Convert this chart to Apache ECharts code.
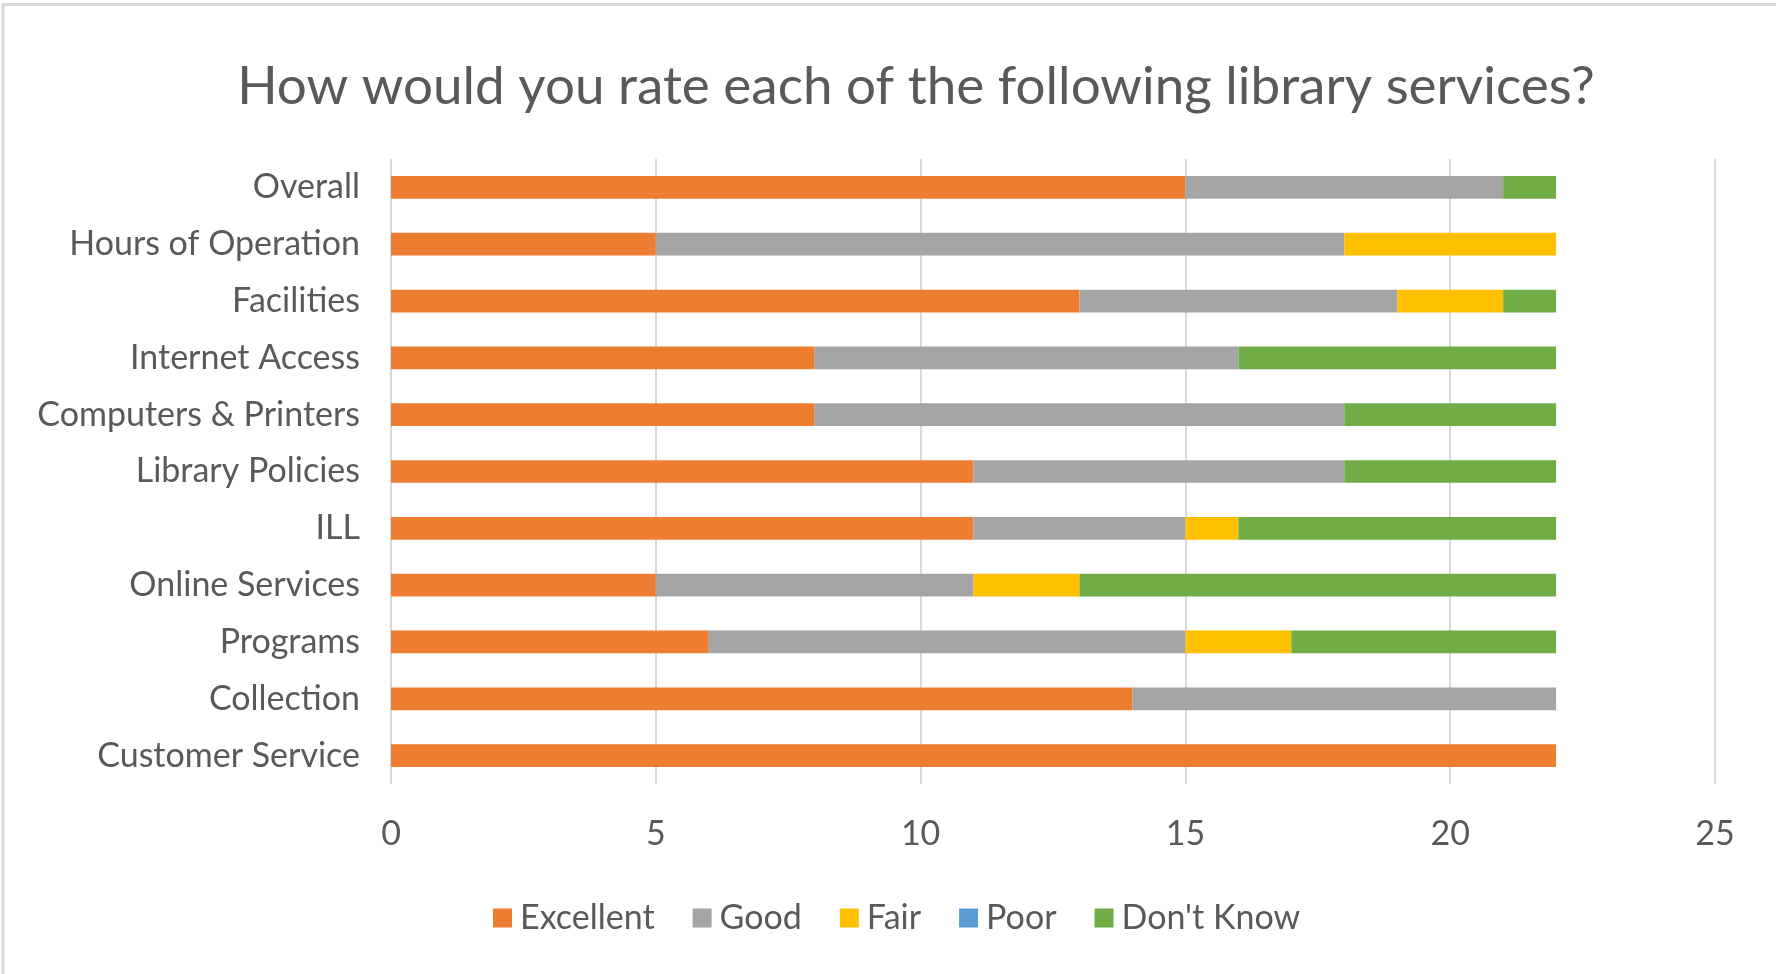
<!DOCTYPE html>
<html>
<head>
<meta charset="utf-8">
<script src="https://cdn.jsdelivr.net/npm/echarts@6/dist/echarts.min.js"></script>
<style>
html,body{margin:0;padding:0;background:#fff;}
#chart{width:1776px;height:974px;}
</style>
</head>
<body>
<div id="chart"></div>
<script>
const categories = ['Customer Service','Collection','Programs','Online Services','ILL','Library Policies','Computers & Printers','Internet Access','Facilities','Hours of Operation','Overall'];
const excellent = [22, 14, 6, 5, 11, 11, 8, 8, 13, 5, 15];
const good      = [0, 8, 9, 6, 4, 7, 10, 8, 6, 13, 6];
const fair      = [0, 0, 2, 2, 1, 0, 0, 0, 2, 4, 0];
const poor      = [0, 0, 0, 0, 0, 0, 0, 0, 0, 0, 0];
const dontKnow  = [0, 0, 5, 9, 6, 4, 4, 6, 1, 0, 1];
const seriesNames = ['Excellent','Good','Fair','Poor',"Don't Know"];
const seriesColors = ['#ED7D31','#A5A5A5','#FFC000','#5B9BD5','#70AD47'];
const xTicks = {min: 0, max: 25, interval: 5};
const titleText = 'How would you rate each of the following library services?';

const FONT = 'Lato';
const TXT = '#595959';
const seriesData = [excellent, good, fair, poor, dontKnow];

const chart = echarts.init(document.getElementById('chart'), null, {renderer: 'canvas'});
chart.setOption({
  animation: false,
  backgroundColor: '#fff',
  textStyle: {fontFamily: FONT},
  graphic: [{
    type: 'rect', silent: true,
    shape: {x: 3, y: 4.5, width: 1800, height: 1000},
    style: {fill: 'none', stroke: '#d9d9d9', lineWidth: 3}
  }],
  title: {
    text: titleText,
    left: 911, top: 55, textAlign: 'center',
    textStyle: {fontFamily: FONT, fontSize: 53, fontWeight: 'normal', color: TXT}
  },
  legend: {
    data: seriesNames,
    left: 488, top: 896,
    icon: 'rect', itemWidth: 19, itemHeight: 19, itemGap: 38,
    textStyle: {fontFamily: FONT, fontSize: 34, color: TXT, padding: [0,0,0,3]}
  },
  grid: {left: 391, right: 61, top: 159, bottom: 190, containLabel: false},
  xAxis: {
    type: 'value', min: xTicks.min, max: xTicks.max, interval: xTicks.interval,
    axisLine: {show: false}, axisTick: {show: false},
    axisLabel: {fontFamily: FONT, fontSize: 34, color: TXT, margin: 33},
    splitLine: {show: true, lineStyle: {color: '#d9d9d9', width: 2}}
  },
  yAxis: {
    type: 'category', data: categories,
    axisLine: {show: false}, axisTick: {show: false},
    axisLabel: {fontFamily: FONT, fontSize: 34, color: TXT, margin: 31}
  },
  series: seriesNames.map((n, i) => ({
    name: n, type: 'bar', stack: 'total',
    barCategoryGap: '60%',
    itemStyle: {color: seriesColors[i]},
    data: seriesData[i]
  }))
});
</script>
</body>
</html>
